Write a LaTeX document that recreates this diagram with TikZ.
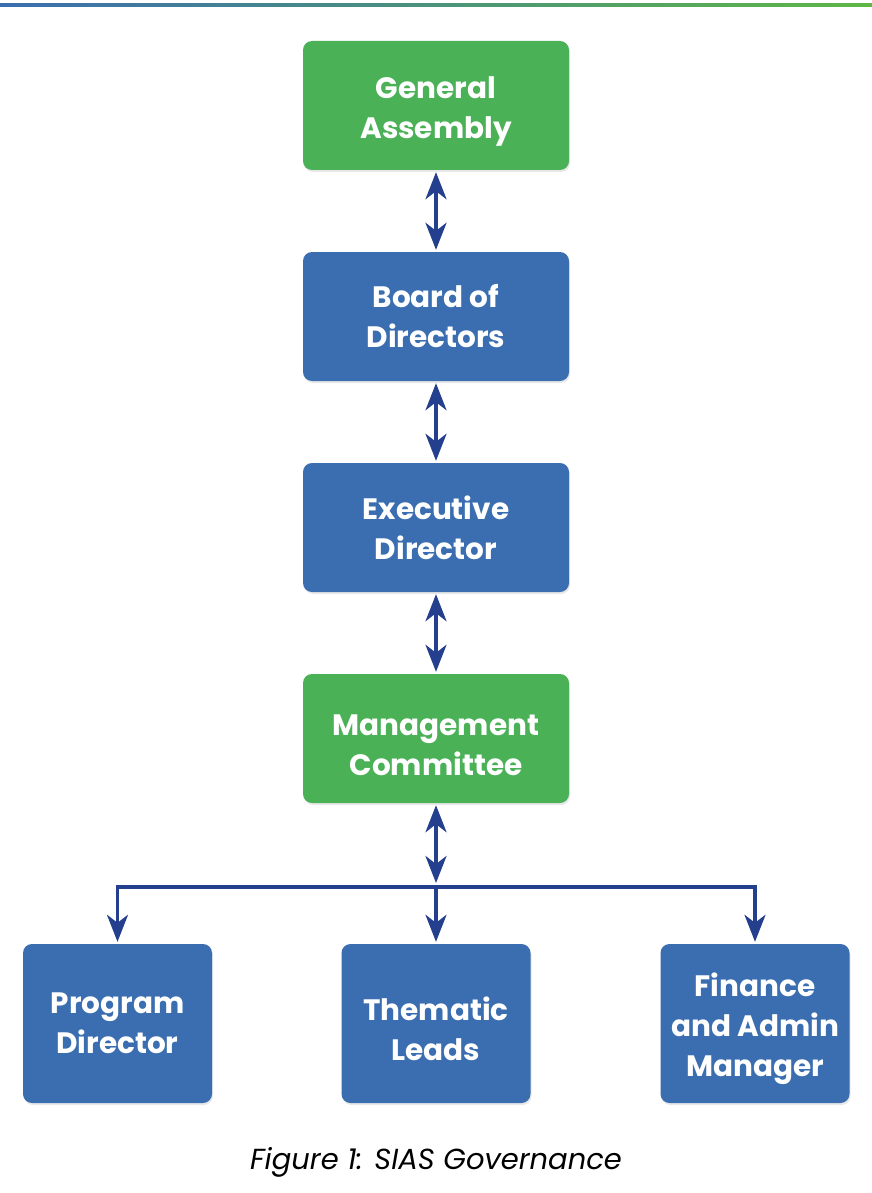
\documentclass[tikz,border=0pt]{standalone}
\usepackage{fontspec}
\setmainfont{Poppins}
\usepackage{xcolor}
\usetikzlibrary{shadows, shapes, arrows.meta, positioning}
\definecolor{govgreen}{HTML}{4BB157}
\definecolor{govblue}{HTML}{3A6EB0}
\definecolor{govarrow}{HTML}{233F8E}
\definecolor{govlime}{HTML}{5DB845}
\tikzset{
  tip/.tip={Stealth[length=27pt,width=21pt,inset=8pt]},
  link/.style={draw=govarrow,line width=3.5pt,tip-tip,shorten <=2pt,shorten >=2pt},
  busline/.style={draw=govarrow,line width=3.5pt,line join=miter}
}
\begin{document}
\begin{tikzpicture}[x=1pt,y=-1pt]
        \useasboundingbox (0,0) rectangle (872,1193);
        \shade[left color=govblue,right color=govlime] (0,3.5) rectangle (872,6.5);
        \begin{scope}[every node/.style={rounded corners=9pt,align=center,text=white,
            font=\fontsize{29.5}{40}\selectfont\bfseries,
            drop shadow={opacity=0.18,shadow xshift=1pt,shadow yshift=-2pt}}]
          \node[fill=govgreen,minimum width=266pt,minimum height=129pt] (ga) at (436,105.5) {\rule{0pt}{34pt}General\\Assembly};
          \node[fill=govblue,minimum width=266pt,minimum height=129pt] (bod) at (436,316.5) {Board of\\Directors};
          \node[fill=govblue,minimum width=266pt,minimum height=129pt] (ed) at (436,527.5) {Executive\\Director};
          \node[fill=govgreen,minimum width=266pt,minimum height=129pt] (mc) at (436,738.5) {\rule{0pt}{34pt}Management\\Committee};
          \node[fill=govblue,minimum width=189pt,minimum height=159pt] (pd) at (117.5,1023.5) {Program\\Director};
          \node[fill=govblue,minimum width=189pt,minimum height=159pt] (tl) at (436,1023.5) {\rule{0pt}{34pt}Thematic\\Leads};
          \node[fill=govblue,minimum width=189pt,minimum height=159pt] (fa) at (755,1023.5) {\rule{0pt}{34pt}Finance\\and Admin\\Manager};
        \end{scope}
        \coordinate (bus) at (436,887);
        \begin{scope}[every edge/.style={link}]
          \path (ga) edge (bod);
          \path (bod) edge (ed);
          \path (ed) edge (mc);
          \path (mc.south) edge[shorten >=4pt] (bus);
        \end{scope}
        \draw[busline,tip-tip,shorten <=2pt,shorten >=2pt] (pd.north) -- (pd.north |- bus) -- (fa.north |- bus) -- (fa.north);
        \draw[busline,-tip,shorten >=2pt] (bus) -- (tl.north);
        \node[font=\fontsize{29}{34}\selectfont\itshape] (cap) at (436,1162) {Figure 1: SIAS Governance};
      \end{tikzpicture}
\end{document}
